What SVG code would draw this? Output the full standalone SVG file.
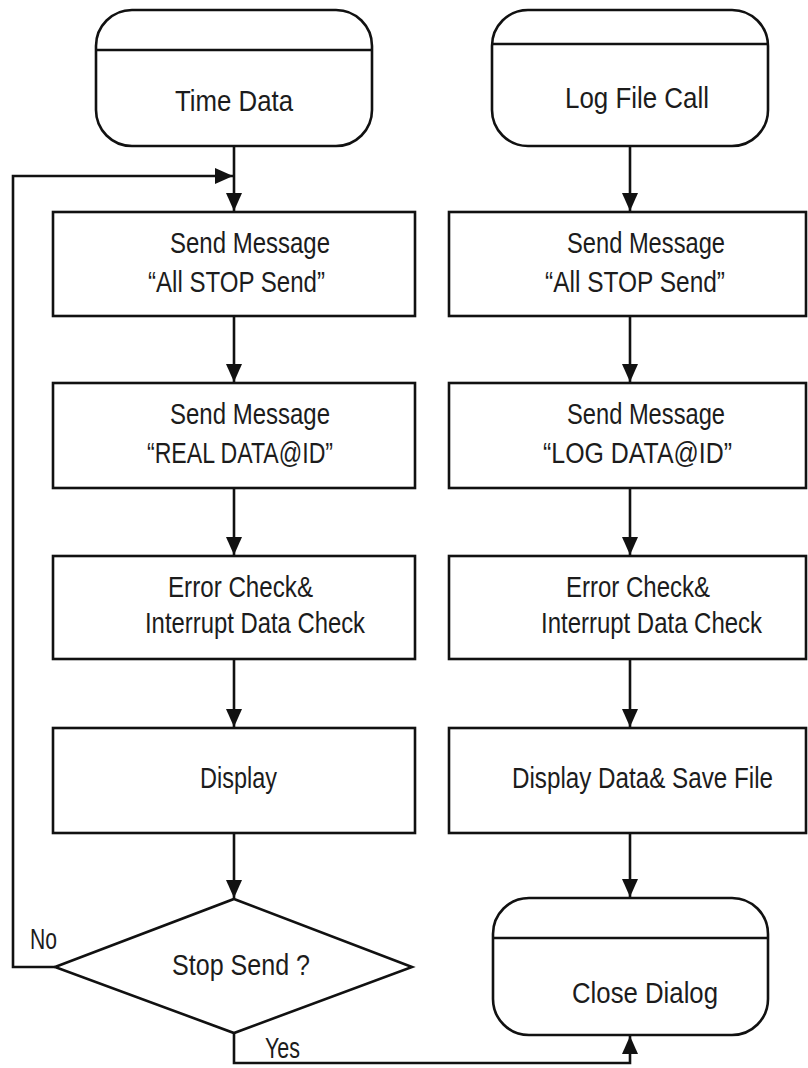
<svg xmlns="http://www.w3.org/2000/svg" width="808" height="1068" viewBox="0 0 808 1068">
<style>
.shape{fill:#fff;stroke:#111;stroke-width:2.6}
.div{stroke:#111;stroke-width:2.6}
.conn{fill:none;stroke:#111;stroke-width:2.6}
text{font-family:"Liberation Sans",Arial,sans-serif;font-size:29px;fill:#1c1c1c;text-anchor:start}
</style>
<defs>
<marker id="arr" markerUnits="userSpaceOnUse" markerWidth="18" markerHeight="16" refX="18" refY="8" orient="auto">
<path d="M0,0 L18,8 L0,16 Z" fill="#111"/>
</marker>
</defs>
<rect width="808" height="1068" fill="#fff"/>
<g id="connectors">
<line class="conn" x1="234" y1="146" x2="234" y2="211" marker-end="url(#arr)"/>
<polyline class="conn" points="55,967 13,967 13,176 233,176" marker-end="url(#arr)"/>
<line class="conn" x1="234" y1="316" x2="234" y2="382" marker-end="url(#arr)"/>
<line class="conn" x1="234" y1="488" x2="234" y2="555" marker-end="url(#arr)"/>
<line class="conn" x1="234" y1="659" x2="234" y2="727" marker-end="url(#arr)"/>
<line class="conn" x1="234" y1="833" x2="234" y2="898" marker-end="url(#arr)"/>
<polyline class="conn" points="234,1033 234,1063 630,1063 630,1036" marker-end="url(#arr)"/>
<line class="conn" x1="630" y1="146" x2="630" y2="211" marker-end="url(#arr)"/>
<line class="conn" x1="630" y1="316" x2="630" y2="382" marker-end="url(#arr)"/>
<line class="conn" x1="630" y1="488" x2="630" y2="555" marker-end="url(#arr)"/>
<line class="conn" x1="630" y1="659" x2="630" y2="727" marker-end="url(#arr)"/>
<line class="conn" x1="630" y1="833" x2="630" y2="897" marker-end="url(#arr)"/>
</g>
<g id="time-data">
<rect class="shape" x="96" y="10" width="276" height="136" rx="36" ry="36"/>
<line class="div" x1="96" y1="50" x2="372" y2="50"/>
<text x="175" y="111" textLength="118" lengthAdjust="spacingAndGlyphs">Time Data</text>
</g>
<g id="log-file-call">
<rect class="shape" x="492" y="10" width="276" height="136" rx="36" ry="36"/>
<line class="div" x1="492" y1="44" x2="768" y2="44"/>
<text x="565" y="108" textLength="144" lengthAdjust="spacingAndGlyphs">Log File Call</text>
</g>
<g id="l-send-stop">
<rect class="shape" x="53" y="212" width="362" height="104"/>
<text x="170" y="253" textLength="160" lengthAdjust="spacingAndGlyphs">Send Message</text>
<text x="148" y="292" textLength="177" lengthAdjust="spacingAndGlyphs">“All STOP Send”</text>
</g>
<g id="l-send-real">
<rect class="shape" x="53" y="383" width="362" height="105"/>
<text x="170" y="424" textLength="160" lengthAdjust="spacingAndGlyphs">Send Message</text>
<text x="147" y="463" textLength="186" lengthAdjust="spacingAndGlyphs">“REAL DATA@ID”</text>
</g>
<g id="l-error-check">
<rect class="shape" x="53" y="556" width="362" height="103"/>
<text x="168" y="597" textLength="145" lengthAdjust="spacingAndGlyphs">Error Check&amp;</text>
<text x="145" y="633" textLength="220" lengthAdjust="spacingAndGlyphs">Interrupt Data Check</text>
</g>
<g id="l-display">
<rect class="shape" x="53" y="728" width="362" height="105"/>
<text x="200" y="788" textLength="77" lengthAdjust="spacingAndGlyphs">Display</text>
</g>
<g id="stop-send">
<polygon class="shape" points="234,899 412,967 234,1033 55,967"/>
<text x="172" y="975" textLength="138" lengthAdjust="spacingAndGlyphs">Stop Send ?</text>
</g>
<g id="labels">
<text x="30" y="949" textLength="27" lengthAdjust="spacingAndGlyphs">No</text>
<text x="265" y="1058" textLength="35" lengthAdjust="spacingAndGlyphs">Yes</text>
</g>
<g id="r-send-stop">
<rect class="shape" x="449" y="212" width="357" height="104"/>
<text x="567" y="253" textLength="158" lengthAdjust="spacingAndGlyphs">Send Message</text>
<text x="545" y="292" textLength="180" lengthAdjust="spacingAndGlyphs">“All STOP Send”</text>
</g>
<g id="r-send-log">
<rect class="shape" x="449" y="383" width="357" height="105"/>
<text x="567" y="424" textLength="158" lengthAdjust="spacingAndGlyphs">Send Message</text>
<text x="543" y="463" textLength="189" lengthAdjust="spacingAndGlyphs">“LOG DATA@ID”</text>
</g>
<g id="r-error-check">
<rect class="shape" x="449" y="556" width="357" height="103"/>
<text x="566" y="597" textLength="144" lengthAdjust="spacingAndGlyphs">Error Check&amp;</text>
<text x="541" y="633" textLength="221" lengthAdjust="spacingAndGlyphs">Interrupt Data Check</text>
</g>
<g id="r-display-save">
<rect class="shape" x="449" y="728" width="357" height="105"/>
<text transform="translate(512,788) scale(0.835,1)">Display Data&amp; Save File</text>
</g>
<g id="close-dialog">
<rect class="shape" x="493" y="898" width="275" height="137" rx="36" ry="36"/>
<line class="div" x1="493" y1="938" x2="768" y2="938"/>
<text x="572" y="1003" textLength="146" lengthAdjust="spacingAndGlyphs">Close Dialog</text>
</g>
</svg>
